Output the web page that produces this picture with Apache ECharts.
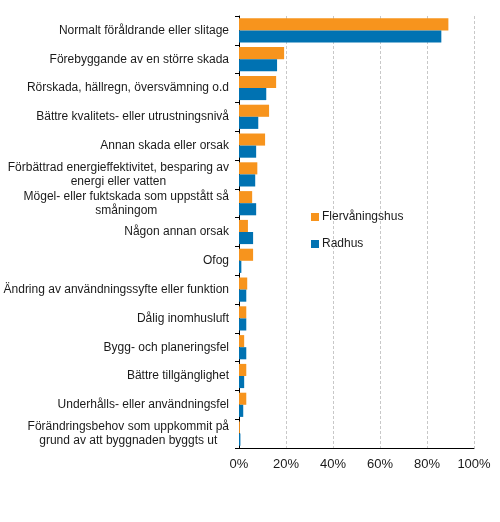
<!DOCTYPE html>
<html>
<head>
<meta charset="utf-8">
<script src="https://cdn.jsdelivr.net/npm/echarts@6/dist/echarts.min.js"></script>
<style>
  html, body { margin: 0; padding: 0; background: #fff; }
  #main { width: 500px; height: 522px; }
</style>
</head>
<body>
<div id="main"></div>
<script>
// kategorier, uppifrån och ned
var categories = [
    'Normalt föråldrande eller slitage',
    'Förebyggande av en större skada',
    'Rörskada, hällregn, översvämning o.d',
    'Bättre kvalitets- eller utrustningsnivå',
    'Annan skada eller orsak',
    'Förbättrad energieffektivitet, besparing av\nenergi eller vatten',
    'Mögel- eller fuktskada som uppstått så\nsmåningom',
    'Någon annan orsak',
    'Ofog',
    'Ändring av användningssyfte eller funktion',
    'Dålig inomhusluft',
    'Bygg- och planeringsfel',
    'Bättre tillgänglighet',
    'Underhålls- eller användningsfel',
    'Förändringsbehov som uppkommit på\ngrund av att byggnaden byggts ut'
];
var flervaningshus = [89.1, 19.2, 15.8, 12.8, 11.1, 7.8, 5.6, 3.8, 6.0, 3.5, 3.1, 2.2, 3.1, 3.1, 0.4];
var radhus = [86.1, 16.2, 11.6, 8.2, 7.3, 6.9, 7.3, 6.0, 1.0, 3.1, 3.1, 3.1, 2.2, 1.8, 0.6];
var xTicks = [0, 20, 40, 60, 80, 100];

var myChart = echarts.init(document.getElementById('main'));
var textColor = '#1a1a1a';
var option = {
    animation: false,
    textStyle: { fontFamily: 'Liberation Sans, Arial, sans-serif' },
    legend: {
        orient: 'vertical',
        left: 306,
        top: 206,
        itemWidth: 8,
        itemHeight: 8,
        itemGap: 15,
        icon: 'rect',
        textStyle: { fontSize: 12, color: textColor, padding: [0, 0, 0, -2] },
        data: ['Flervåningshus', 'Radhus']
    },
    grid: {
        left: 239,
        right: 26,
        top: 16,
        bottom: 74
    },
    xAxis: {
        type: 'value',
        min: xTicks[0],
        max: xTicks[xTicks.length - 1],
        interval: 20,
        axisLine: { show: true, lineStyle: { color: '#000', width: 1 } },
        axisTick: { show: false },
        splitLine: { show: true, lineStyle: { color: '#c8c8c8', type: [3, 2], width: 1 } },
        axisLabel: {
            margin: 10,
            fontSize: 13,
            color: textColor,
            formatter: function (v) { return v + '%'; }
        }
    },
    yAxis: {
        type: 'category',
        inverse: true,
        data: categories,
        axisLine: { show: true, lineStyle: { color: '#000', width: 1 } },
        axisTick: { show: true, length: 4, lineStyle: { color: '#000' } },
        splitLine: { show: false },
        axisLabel: {
            margin: 10,
            align: 'right',
            color: textColor,
            fontSize: 12,
            lineHeight: 14,
            formatter: function (v) {
                return v.split('\n').map(function (s) { return '{c|' + s + '}'; }).join('\n');
            },
            rich: {
                c: { align: 'center', fontSize: 12, lineHeight: 14, color: textColor }
            }
        }
    },
    series: [
        {
            name: 'Flervåningshus',
            type: 'bar',
            data: flervaningshus,
            barGap: '0%',
            barCategoryGap: '16%',
            itemStyle: { color: '#f7941d' }
        },
        {
            name: 'Radhus',
            type: 'bar',
            data: radhus,
            barGap: '0%',
            barCategoryGap: '16%',
            itemStyle: { color: '#0072b2' }
        }
    ]
};
myChart.setOption(option);
</script>
</body>
</html>
